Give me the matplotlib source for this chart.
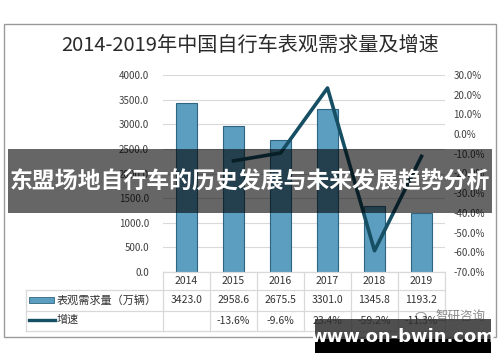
import matplotlib
matplotlib.use("Agg")
import matplotlib.pyplot as plt
from matplotlib.patches import Rectangle, Circle
from matplotlib.lines import Line2D

plt.rcParams['font.family'] = ['Noto Sans CJK SC', 'DejaVu Sans']

years = ['2014', '2015', '2016', '2017', '2018', '2019']
demand = [3423.0, 2958.6, 2675.5, 3301.0, 1345.8, 1193.2]
growth = [None, -13.6, -9.6, 23.4, -59.2, -11.3]
title = '2014-2019年中国自行车表观需求量及增速'
series_bar = '表观需求量（万辆）'
series_line = '增速'
banner = '东盟场地自行车的历史发展与未来发展趋势分析'
watermark = 'www.on-bwin.com'
wechat = '智研咨询'

W, H = 500, 362
fig = plt.figure(figsize=(W / 100, H / 100), dpi=100)
fig.patch.set_facecolor('white')

def fx(x):
    return x / W

def fy(y):
    return 1 - y / H

# frame
fig.add_artist(Rectangle((fx(4), fy(337)), fx(492), (313) / H, fill=False,
                         edgecolor='#9a9a9a', lw=1.0, transform=fig.transFigure, zorder=0.5))

fig.text(fx(250), fy(45), title, ha='center', va='center', fontsize=14.5,
         color='#2a2a2a')

L, R, T, B = 163, 445, 75, 272
ax = fig.add_axes([fx(L), fy(B), (R - L) / W, (B - T) / H])
x = list(range(len(years)))
ax.bar(x, demand, width=0.43, color='#5B9EC0', edgecolor='#2F6580', lw=0.8, zorder=2)
ax.set_ylim(0, 4000)
ax.set_xlim(-0.5, len(years) - 0.5)
ax.set_yticks([i * 500 for i in range(9)])
ax.set_yticklabels(['%.1f' % (i * 500) for i in range(9)], fontsize=7, color='#404040')
ax.set_xticks([])
ax.grid(axis='y', color='#D9D9D9', lw=0.8, zorder=0)
ax.tick_params(length=0, pad=10)
for s in ax.spines.values():
    s.set_visible(False)

ax2 = ax.twinx()
gx = [i for i, g in enumerate(growth) if g is not None]
gy = [g for g in growth if g is not None]
ax2.plot(gx, gy, color='#164E63', lw=2.6, zorder=3)
ax2.set_ylim(-70, 30)
ax2.set_yticks(list(range(-70, 31, 10)))
ax2.set_yticklabels(['%.1f%%' % v for v in range(-70, 31, 10)], fontsize=7, color='#404040')
ax2.tick_params(length=0, pad=6)
for s in ax2.spines.values():
    s.set_visible(False)

# table
gc = '#D9D9D9'
cols = [163 + 47 * i for i in range(7)]
def hline(y, x0, x1):
    fig.add_artist(Line2D([fx(x0), fx(x1)], [fy(y), fy(y)], color=gc, lw=0.9,
                          transform=fig.transFigure))
def vline(xp, y0, y1):
    fig.add_artist(Line2D([fx(xp), fx(xp)], [fy(y0), fy(y1)], color=gc, lw=0.9,
                          transform=fig.transFigure))
hline(272, 163, 445)
hline(290, 26, 445)
hline(311, 26, 445)
hline(331, 26, 445)
for c in cols:
    vline(c, 272, 331)
vline(26, 290, 331)

for i, yr in enumerate(years):
    cx = cols[i] + 23.5
    fig.text(fx(cx), fy(281), yr, ha='center', va='center', fontsize=7.5, color='#333333')
    fig.text(fx(cx), fy(300), '%.1f' % demand[i], ha='center', va='center', fontsize=7.5, color='#333333')
    if growth[i] is not None:
        fig.text(fx(cx), fy(321), '%.1f%%' % growth[i], ha='center', va='center', fontsize=7.5, color='#333333')

fig.add_artist(Rectangle((fx(29), fy(303)), fx(25), 6 / H, facecolor='#5B9EC0',
                         edgecolor='#2F6580', lw=0.6, transform=fig.transFigure))
fig.add_artist(Line2D([fx(29), fx(55)], [fy(320), fy(320)], color='#164E63', lw=2.4,
                      transform=fig.transFigure))
fig.text(fx(57), fy(300), series_bar, ha='left', va='center', fontsize=8, color='#333333')
fig.text(fx(57), fy(320), series_line, ha='left', va='center', fontsize=8, color='#333333')

# wechat watermark
fig.add_artist(Circle((fx(421), fy(316)), 5 / W, fill=False, edgecolor='#9a9a9a', lw=0.8,
                      transform=fig.transFigure))
fig.text(fx(461), fy(316), wechat, ha='center', va='center', fontsize=9, color='#8a8a8a')

# banner
fig.add_artist(Rectangle((fx(8), fy(213)), fx(484), 64 / H, facecolor='#000000', alpha=0.6,
                         edgecolor='none', transform=fig.transFigure, zorder=10))
fig.text(fx(250), fy(182), banner, ha='center', va='center', fontsize=16.5,
         fontweight='bold', color='white', zorder=11)

# bottom right watermark box
fig.add_artist(Rectangle((fx(315), fy(339)), fx(176), 20 / H, facecolor='#303030', alpha=0.85,
                         edgecolor='none', transform=fig.transFigure, zorder=10))
fig.add_artist(Rectangle((fx(315), fy(353)), fx(176), 14 / H, facecolor='#000000',
                         edgecolor='none', transform=fig.transFigure, zorder=10))
fig.text(fx(403), fy(337), watermark, ha='center', va='center', fontsize=13,
         fontweight='bold', color='white', zorder=11, family=['DejaVu Sans'])

fig.savefig('out.png', dpi=100)
